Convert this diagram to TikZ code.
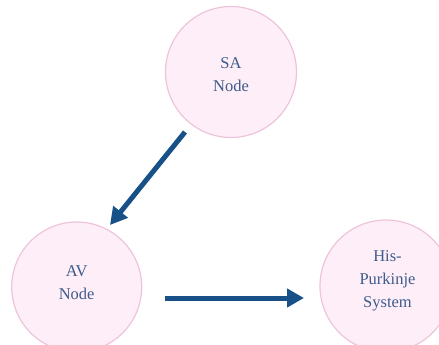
\documentclass[tikz,border=0pt]{standalone}
\usepackage{fontspec}
\setmainfont{Liberation Serif}
\usetikzlibrary{arrows.meta}
\definecolor{circfill}{RGB}{253,238,248}
\definecolor{circline}{RGB}{238,196,218}
\definecolor{txtblue}{RGB}{62,92,140}
\definecolor{arrblue}{RGB}{24,80,136}
\begin{document}
\begin{tikzpicture}[x=1pt,y=-1pt,
  stage/.style={circle,draw=circline,fill=circfill,line width=1.2pt,
    inner sep=0pt},
  lbl/.style={text=txtblue,align=center,inner sep=0pt,
    font=\fontsize{16.5}{23}\selectfont},
  flow/.style={draw=arrblue,line width=5pt,
    -{Triangle[length=17pt,width=18pt]}}]
\useasboundingbox (0,0) rectangle (439,345);
\node[stage,minimum size=131pt] (sa) at (231,72) {};
\node[stage,minimum size=130pt] (av) at (76.7,287) {};
\node[stage,minimum size=132pt] (his) at (386,286) {};
\node[lbl,yshift=-3pt] (satext) at (sa) {SA\\Node};
\node[lbl,yshift=4.5pt] (avtext) at (av) {AV\\Node};
\node[lbl,yshift=4.7pt,xshift=1.5pt] (histext) at (his) {His-\\Purkinje\\System};
\coordinate (a1) at (185,132);
\coordinate (a2) at (110,225);
\coordinate (b1) at (165,298);
\coordinate (b2) at (304,298);
\draw[flow] (a1) -- (a2);
\draw[flow] (b1) -- (b2);
\end{tikzpicture}
\end{document}
